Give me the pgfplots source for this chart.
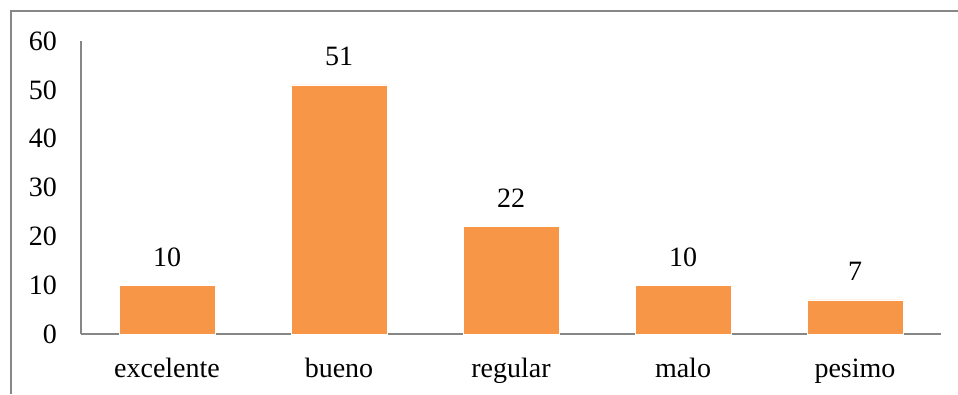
\documentclass[border=0pt]{standalone}
\usepackage{pgfplots}
\pgfplotsset{compat=1.18}
\usepackage{fontspec}
\setmainfont{Liberation Serif}
\definecolor{barorange}{HTML}{F79646}
\definecolor{axgray}{HTML}{878787}
\begin{document}
\fontsize{28}{33}\selectfont
\begin{tikzpicture}
\useasboundingbox (0,0) rectangle (958pt,394pt);
\draw[axgray, line width=2pt] (11pt,0pt) -- (11pt,383pt) -- (958pt,383pt);
\begin{axis}[
  at={(81pt,60pt)}, anchor=south west,
  scale only axis, width=860pt, height=293pt,
  xmin=-0.5, xmax=4.5, ymin=0, ymax=60,
  ytick={0,10,...,60},
  xtick=data,
  xticklabels={excelente,bueno,regular,malo,pesimo},
  axis x line*=bottom, axis y line*=left,
  axis line style={draw=axgray, line width=2pt, -},
  major tick length=0pt,
  tick style={draw=none},
  /pgf/number format/assume math mode=true,
  ticklabel style={font=\fontsize{28}{33}\selectfont, text=black},
  yticklabel style={anchor=east, inner sep=0pt, xshift=-24pt},
  xticklabel style={anchor=base, inner sep=0pt, yshift=-43pt},
  ybar, bar width=96pt,
  nodes near coords,
  every node near coord/.append style={font=\fontsize{28}{33}\selectfont, text=black, anchor=base, inner sep=0pt, yshift=19pt},
  clip=false,
]
\addplot[fill=barorange, draw=white, line width=0.6pt] coordinates {(0,10) (1,51) (2,22) (3,10) (4,7)};
\end{axis}
\end{tikzpicture}
\end{document}
